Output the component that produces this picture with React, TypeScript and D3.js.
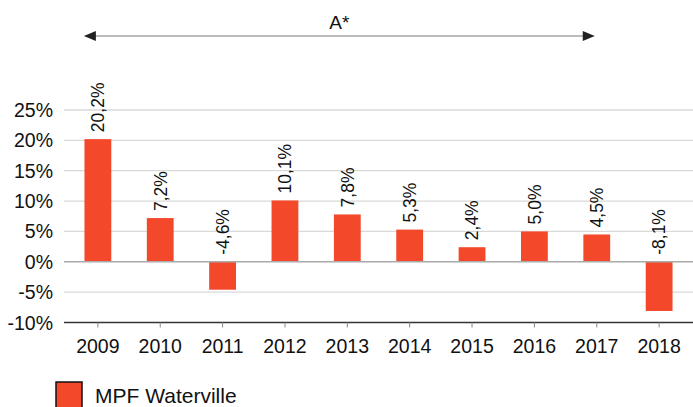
import * as d3 from "d3";
import React, { useEffect, useRef } from "react";

const years = ["2009", "2010", "2011", "2012", "2013", "2014", "2015", "2016", "2017", "2018"];
const returns = [20.2, 7.2, -4.6, 10.1, 7.8, 5.3, 2.4, 5.0, 4.5, -8.1];
const yTicks = [-10, -5, 0, 5, 10, 15, 20, 25];
const seriesName = "MPF Waterville";
const spanLabel = "A*";
const spanFrom = "2009";
const spanTo = "2017";

const width = 693;
const height = 407;
const barColor = "#f4482b";
const font = "'Liberation Sans', Arial, sans-serif";

const fmt = (v: number) => v.toFixed(1).replace(".", ",") + "%";

export default function App() {
  const ref = useRef<SVGSVGElement>(null);

  useEffect(() => {
    const svg = d3.select(ref.current);
    svg.selectAll("*").remove();

    const x = d3.scaleBand().domain(years).range([67, 690]).paddingInner(0.57).paddingOuter(0.28);
    const y = d3.scaleLinear().domain([-10, 25]).range([322.5, 110]);

    // grid
    svg
      .append("g")
      .selectAll("line")
      .data(yTicks.filter((t) => t !== 0 && t !== -10))
      .enter()
      .append("line")
      .attr("x1", 64)
      .attr("x2", width)
      .attr("y1", (d) => y(d))
      .attr("y2", (d) => y(d))
      .attr("stroke", "#d9d9d9")
      .attr("stroke-width", 1.3);

    // y labels
    svg
      .append("g")
      .selectAll("text")
      .data(yTicks)
      .enter()
      .append("text")
      .attr("x", 53)
      .attr("y", (d) => y(d))
      .attr("dy", "0.36em")
      .attr("text-anchor", "end")
      .style("font-family", font)
      .style("font-size", "19.5px")
      .attr("fill", "#111")
      .text((d) => d + "%");

    // bars
    svg
      .append("g")
      .selectAll("rect")
      .data(returns)
      .enter()
      .append("rect")
      .attr("x", (d, i) => x(years[i]) as number)
      .attr("width", x.bandwidth())
      .attr("y", (d) => y(Math.max(0, d)))
      .attr("height", (d) => Math.abs(y(d) - y(0)))
      .attr("fill", barColor);

    // zero line
    svg
      .append("line")
      .attr("x1", 64)
      .attr("x2", width)
      .attr("y1", y(0))
      .attr("y2", y(0))
      .attr("stroke", "#aaaaaa")
      .attr("stroke-width", 1.5);

    // bottom axis
    svg
      .append("line")
      .attr("x1", 64)
      .attr("x2", width)
      .attr("y1", y(-10))
      .attr("y2", y(-10))
      .attr("stroke", "#333")
      .attr("stroke-width", 1.5);

    svg
      .append("g")
      .selectAll("line")
      .data(years)
      .enter()
      .append("line")
      .attr("x1", (d) => (x(d) as number) + x.bandwidth() / 2)
      .attr("x2", (d) => (x(d) as number) + x.bandwidth() / 2)
      .attr("y1", y(-10))
      .attr("y2", y(-10) + 5)
      .attr("stroke", "#888");

    svg
      .append("g")
      .selectAll("text")
      .data(years)
      .enter()
      .append("text")
      .attr("x", (d) => (x(d) as number) + x.bandwidth() / 2)
      .attr("y", 353)
      .attr("text-anchor", "middle")
      .style("font-family", font)
      .style("font-size", "19.5px")
      .attr("fill", "#111")
      .text((d) => d);

    // value labels, rotated
    svg
      .append("g")
      .selectAll("text")
      .data(returns)
      .enter()
      .append("text")
      .attr("transform", (d, i) => {
        const cx = (x(years[i]) as number) + x.bandwidth() / 2;
        const cy = y(Math.max(0, d)) - 7;
        return `translate(${cx},${cy}) rotate(-90)`;
      })
      .attr("dy", "0.36em")
      .attr("text-anchor", "start")
      .style("font-family", font)
      .style("font-size", "17.5px")
      .attr("fill", "#111")
      .text((d) => fmt(d));

    // span arrow
    const ax0 = (x(spanFrom) as number) + x.bandwidth() / 2 - 14;
    const ax1 = (x(spanTo) as number) + x.bandwidth() / 2 - 2;
    const ay = 36;
    svg
      .append("line")
      .attr("x1", ax0 + 8)
      .attr("x2", ax1 - 8)
      .attr("y1", ay)
      .attr("y2", ay)
      .attr("stroke", "#bbbbbb")
      .attr("stroke-width", 2);
    svg
      .append("path")
      .attr("d", `M${ax0},${ay} L${ax0 + 12},${ay - 5} L${ax0 + 12},${ay + 5} Z`)
      .attr("fill", "#222");
    svg
      .append("path")
      .attr("d", `M${ax1},${ay} L${ax1 - 12},${ay - 5} L${ax1 - 12},${ay + 5} Z`)
      .attr("fill", "#222");
    svg
      .append("text")
      .attr("x", (ax0 + ax1) / 2)
      .attr("y", 29)
      .attr("text-anchor", "middle")
      .style("font-family", font)
      .style("font-size", "19px")
      .attr("fill", "#111")
      .text(spanLabel);

    // legend
    svg
      .append("rect")
      .attr("x", 56)
      .attr("y", 382)
      .attr("width", 26)
      .attr("height", 30)
      .attr("fill", barColor)
      .attr("stroke", "#111")
      .attr("stroke-width", 1.5);
    svg
      .append("text")
      .attr("x", 95)
      .attr("y", 403)
      .style("font-family", font)
      .style("font-size", "21px")
      .attr("fill", "#111")
      .text(seriesName);
  }, []);

  return (
    <svg
      ref={ref}
      width={width}
      height={height}
      style={{ position: "absolute", left: 0, top: 0, background: "#fff" }}
    />
  );
}
